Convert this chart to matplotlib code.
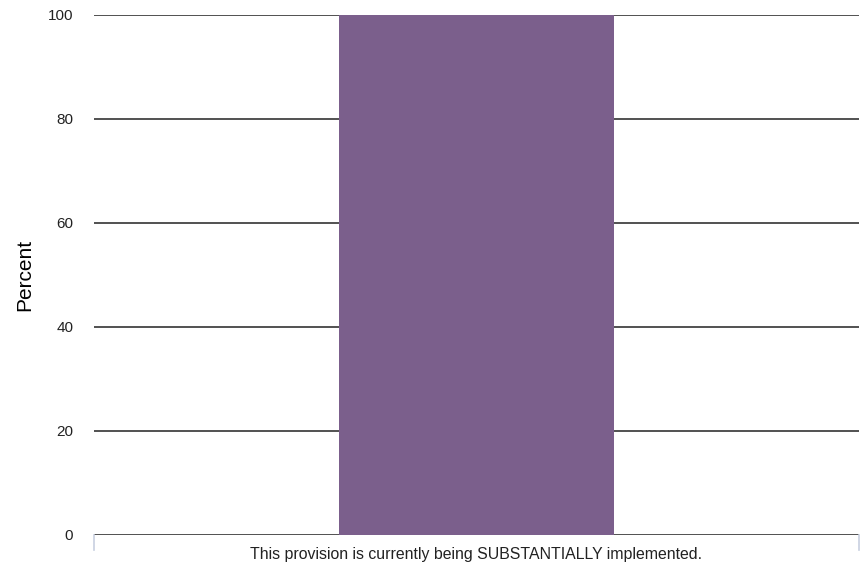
import matplotlib
matplotlib.use("Agg")
import matplotlib.pyplot as plt

categories = ["This provision is currently being SUBSTANTIALLY implemented."]
values = [100]
yticks = [0, 20, 40, 60, 80, 100]

plt.rcParams['font.family'] = ['Liberation Sans', 'DejaVu Sans']

fig = plt.figure(figsize=(8.65, 5.66), dpi=100)
ax = fig.add_axes([94/865, 31/566, 765/865, 520/566])

ax.bar(range(len(categories)), values, width=0.36, color='#7B5F8C', zorder=3)
ax.set_xlim(-0.5, len(categories) - 0.5)
ax.set_ylim(0, 100)
ax.set_yticks(yticks)
ax.set_yticklabels([str(t) for t in yticks], fontsize=11, color='#222222')
for t in yticks:
    ax.axhline(t, color='#333333', linewidth=1.2, zorder=1)

ax.set_xticks([])
for s in ax.spines.values():
    s.set_visible(False)
ax.tick_params(axis='y', length=0, pad=15)

# light category boundary ticks
for xb in [-0.5, len(categories) - 0.5]:
    ax.plot([xb, xb], [0, -2.8], color='#C8D0E0', linewidth=1.2, clip_on=False, zorder=2)

for i, c in enumerate(categories):
    ax.text(i, -2.3, c, ha='center', va='top', fontsize=11.45, color='#222222')

ax.set_ylabel('Percent', fontsize=15, labelpad=10)

fig.savefig('out.png', dpi=100)
